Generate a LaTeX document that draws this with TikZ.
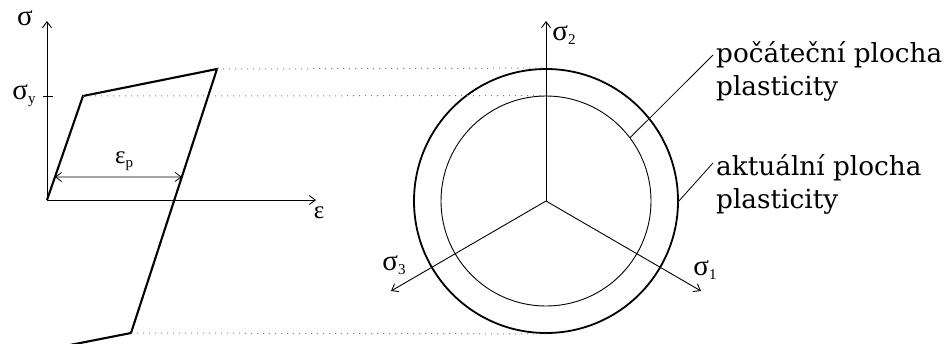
\documentclass[tikz,border=0pt]{standalone}
\usepackage{fontspec}
\setmainfont{DejaVu Serif}
\newfontfamily\gk{Liberation Serif}
\usetikzlibrary{arrows.meta,calc}
\newcommand{\gsub}[2]{#1\raisebox{-4pt}{\fontsize{15}{16}\selectfont #2}}
\begin{document}
\begin{tikzpicture}[x=1pt,y=-1pt,
  axis/.style={line width=0.9pt, -{Straight Barb[length=6pt,width=9pt]}},
  curve/.style={line width=2.1pt, line join=miter},
  guide/.style={gray, line width=1pt, dash pattern=on 1pt off 5pt},
  lbl/.style={font=\gk\fontsize{29}{30}\selectfont, inner sep=0},
  elbl/.style={font=\gk\fontsize{25}{30}\selectfont, inner sep=0},
  txt/.style={font=\fontsize{26.3}{33}\selectfont, align=left, anchor=west, inner sep=0}]
\clip (0,0) rectangle (947,343);
% --- left diagram ---
\coordinate (O) at (47,200);
\coordinate (Ytop) at (47,21);
\coordinate (Xend) at (316,200);
\coordinate (Y) at (83,96);
\coordinate (P) at (217,69);
\coordinate (Q) at (131,333);
\coordinate (R) at (70,345);
\draw[axis] (O) -- (Ytop);
\draw[axis] (O) -- (Xend);
\draw[curve] (O) -- (Y) -- (P) -- (Q) -- (R);
\coordinate (T) at (47,96);
\draw[line width=0.9pt] ($(T)+(-4,0)$) -- ($(T)+(6,0)$);
\coordinate (E1) at ($(O)!0.221!(Y)$);
\coordinate (E2) at ($(P)!0.409!(Q)$);
\draw[line width=0.8pt, {Straight Barb[length=6pt,width=9pt]}-{Straight Barb[length=6pt,width=9pt]}] (E1) -- (E2);
\node[lbl] (ls) at (25,18) {σ};
\node[lbl] (lsy) at (24,96) {\gsub{σ}{y}};
\node[elbl] (lep) at (124,161) {\gsub{ε}{p}};
\node[elbl] (le) at (319,213) {ε};
% --- right diagram ---
\coordinate (C) at (546,201);
\node[circle, draw, line width=1.8pt, minimum size=264pt, inner sep=0] (outer) at (C) {};
\node[circle, draw, line width=0.9pt, minimum size=210pt, inner sep=0] (inner) at (C) {};
\coordinate (S2) at (546,21);
\coordinate (S3) at (391,291);
\coordinate (S1) at (701,291);
\draw[axis] (C) -- (S2);
\draw[axis] (C) -- (S3);
\draw[axis] (C) -- (S1);
\node[lbl] (l2) at (564,35) {\gsub{σ}{2}};
\node[lbl] (l3) at (394,265) {\gsub{σ}{3}};
\node[lbl] (l1) at (705,270) {\gsub{σ}{1}};
% guides
\draw[guide] (P) -- (outer.north);
\draw[guide] (Y) -- (inner.north);
\draw[guide] (Q) -- (outer.south);
% annotations
\node[txt] (t1) at (716,71) {počáteční plocha\\plasticity};
\node[txt] (t2) at (716,184) {aktuální plocha\\plasticity};
\coordinate (L1) at (713,55);
\coordinate (L2) at (713,163);
\draw[line width=0.8pt] (inner.37) -- (L1);
\draw[line width=0.8pt] (outer.east) -- (L2);
\end{tikzpicture}
\end{document}
